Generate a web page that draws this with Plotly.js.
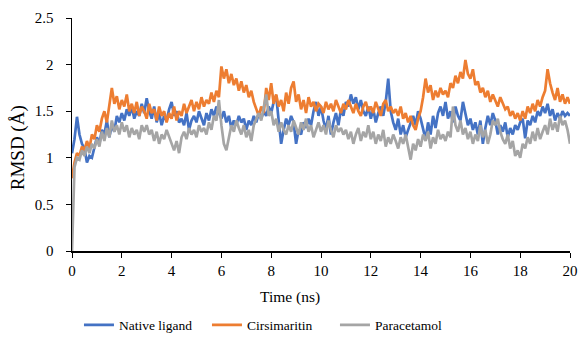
<!DOCTYPE html>
<html>
<head>
<meta charset="utf-8">
<script src="https://cdn.plot.ly/plotly-3.0.1.min.js"></script>
<style>html,body{margin:0;padding:0;background:#fff;}#chart{width:579px;height:349px;}</style>
</head>
<body>
<div id="chart"></div>
<script>
// time axis: 0 to 20 ns, step 0.1 ns
const timeStart = 0, timeStep = 0.1;

const seriesNames = ["Native ligand", "Cirsimaritin", "Paracetamol"];
const seriesColors = ["#4472C4", "#ED7D31", "#A5A5A5"];

const nativeLigand = [
1.05,1.20,1.44,1.25,1.15,1.10,0.95,1.02,1.00,1.12,
1.22,1.15,1.30,1.25,1.40,1.22,1.35,1.28,1.45,1.38,
1.48,1.40,1.52,1.45,1.55,1.42,1.50,1.45,1.58,1.48,
1.64,1.50,1.42,1.55,1.38,1.48,1.35,1.45,1.40,1.52,
1.60,1.45,1.50,1.38,1.42,1.35,1.48,1.30,1.40,1.45,
1.38,1.50,1.42,1.35,1.48,1.40,1.52,1.45,1.55,1.48,
1.42,1.50,1.38,1.45,1.32,1.40,1.35,1.45,1.38,1.42,
1.30,1.40,1.35,1.45,1.38,1.48,1.42,1.50,1.45,1.55,
1.48,1.60,1.67,1.40,1.15,1.30,1.42,1.35,1.45,1.38,
1.15,1.30,1.25,1.38,1.32,1.42,1.35,1.50,1.60,1.45,
1.55,1.40,1.30,1.45,1.25,1.38,1.48,1.35,1.52,1.45,
1.60,1.55,1.68,1.58,1.65,1.52,1.62,1.50,1.45,1.55,
1.42,1.52,1.38,1.48,1.55,1.45,1.60,1.85,1.50,1.38,
1.30,1.42,1.25,1.35,1.22,1.30,1.38,1.45,1.35,1.50,
1.42,1.30,1.20,1.38,1.25,1.45,1.32,1.48,1.55,1.45,
1.60,1.42,1.50,1.38,1.55,1.45,1.40,1.60,1.48,1.35,
1.42,1.30,1.38,1.25,1.40,1.15,1.32,1.45,1.35,1.48,
1.40,1.25,1.35,1.28,1.38,1.22,1.32,1.25,1.35,1.30,
1.38,1.42,1.21,1.40,1.35,1.45,1.38,1.50,1.45,1.55,
1.48,1.58,1.45,1.52,1.40,1.48,1.42,1.50,1.45,1.48,
1.45];

const cirsimaritin = [
0.78,0.95,1.05,1.02,1.12,1.08,1.18,1.10,1.25,1.20,
1.35,1.28,1.42,1.50,1.38,1.55,1.75,1.58,1.66,1.52,
1.62,1.55,1.68,1.50,1.58,1.48,1.60,1.45,1.55,1.50,
1.42,1.58,1.48,1.52,1.40,1.55,1.45,1.50,1.38,1.48,
1.42,1.55,1.40,1.50,1.45,1.58,1.48,1.55,1.62,1.50,
1.60,1.52,1.65,1.55,1.62,1.58,1.70,1.60,1.72,1.65,
1.98,1.85,1.95,1.80,1.90,1.78,1.85,1.72,1.82,1.70,
1.78,1.65,1.72,1.60,1.52,1.45,1.55,1.48,1.75,1.62,
1.80,1.58,1.68,1.55,1.62,1.50,1.70,1.58,1.75,1.82,
1.60,1.68,1.52,1.62,1.48,1.65,1.55,1.60,1.50,1.58,
1.55,1.48,1.60,1.52,1.58,1.50,1.62,1.55,1.48,1.58,
1.52,1.62,1.55,1.48,1.58,1.50,1.45,1.55,1.60,1.50,
1.55,1.48,1.60,1.52,1.45,1.58,1.62,1.50,1.55,1.48,
1.52,1.45,1.55,1.42,1.48,1.38,1.45,1.35,1.30,1.42,
1.50,1.65,1.85,1.70,1.78,1.62,1.72,1.65,1.75,1.68,
1.72,1.65,1.80,1.75,1.88,1.80,1.92,1.85,2.05,1.90,
1.85,1.95,1.78,1.82,1.70,1.75,1.65,1.72,1.60,1.68,
1.62,1.55,1.65,1.58,1.52,1.55,1.45,1.50,1.42,1.48,
1.40,1.50,1.42,1.55,1.48,1.58,1.50,1.62,1.55,1.65,
1.72,1.95,1.80,1.70,1.62,1.75,1.60,1.68,1.58,1.65,
1.58];

const paracetamol = [
0.00,0.90,1.00,0.98,1.08,1.02,1.12,1.05,1.15,1.10,
1.20,1.12,1.28,1.18,1.32,1.22,1.40,1.28,1.35,1.25,
1.38,1.28,1.35,1.22,1.32,1.25,1.30,1.20,1.35,1.28,
1.35,1.25,1.30,1.18,1.28,1.15,1.25,1.20,1.30,1.22,
1.15,1.08,1.18,1.05,1.22,1.28,1.20,1.32,1.25,1.30,
1.22,1.35,1.28,1.32,1.25,1.38,1.30,1.45,1.40,1.62,
1.35,1.15,1.08,1.20,1.35,1.28,1.40,1.32,1.25,1.35,
1.22,1.30,1.18,1.35,1.42,1.48,1.40,1.55,1.68,1.45,
1.50,1.35,1.42,1.28,1.38,1.30,1.25,1.35,1.28,1.40,
1.32,1.25,1.38,1.30,1.42,1.28,1.35,1.22,1.30,1.38,
1.28,1.35,1.25,1.40,1.30,1.22,1.35,1.28,1.32,1.25,
1.30,1.20,1.28,1.15,1.25,1.32,1.18,1.28,1.22,1.35,
1.20,1.28,1.15,1.25,1.18,1.30,1.12,1.22,1.15,1.25,
1.18,1.10,1.22,1.15,1.25,1.12,0.98,1.15,1.08,1.20,
1.12,1.25,1.18,1.28,1.10,1.22,1.15,1.30,1.20,1.25,
1.18,1.28,1.22,1.55,1.35,1.28,1.40,1.25,1.32,1.20,
1.28,1.15,1.25,1.18,1.35,1.22,1.30,1.15,1.25,1.40,
1.35,1.42,1.28,1.20,1.15,1.25,1.10,1.18,1.02,1.08,
1.00,1.15,1.10,1.22,1.15,1.28,1.18,1.32,1.20,1.28,
1.35,1.25,1.42,1.30,1.38,1.28,1.45,1.35,1.40,1.30,
1.15];

const xTickVals = [0,2,4,6,8,10,12,14,16,18,20];
const yTickVals = [0,0.5,1,1.5,2,2.5];
const yTickText = ["0","0.5","1","1.5","2","2.5"];
const xTitle = "Time (ns)";
const yTitle = "RMSD (Å)";

function timesFor(arr){ return arr.map((_, i) => +(timeStart + i*timeStep).toFixed(2)); }

const allSeries = [nativeLigand, cirsimaritin, paracetamol];
const traces = allSeries.map((ys, k) => ({
  x: timesFor(ys), y: ys, type: 'scatter', mode: 'lines',
  name: seriesNames[k], line: {color: seriesColors[k], width: 2.7}
}));

const fam = '"Liberation Serif", "Times New Roman", serif';
const tickFont = {family: fam, size: 15, color: '#000'};

const layout = {
  width: 579, height: 349,
  margin: {l: 72, r: 9, t: 18, b: 98},
  paper_bgcolor: '#fff', plot_bgcolor: '#fff',
  font: tickFont,
  showlegend: true,
  legend: {orientation: 'h', x: 0.014, xanchor: 'left', y: -0.318, yanchor: 'middle',
           font: {family: fam, size: 13.5, color: '#000'}, itemwidth: 30, entrywidth: 83},
  xaxis: {range: [0, 20], tickvals: xTickVals, showgrid: false, zeroline: false,
          showline: true, linecolor: '#000', linewidth: 1.5, ticks: 'outside', ticklen: 5, tickcolor: '#000',
          tickfont: tickFont},
  yaxis: {range: [0, 2.5], tickvals: yTickVals, ticktext: yTickText, showgrid: false, zeroline: false,
          showline: true, linecolor: '#000', linewidth: 1.5, ticks: 'outside', ticklen: 5, tickcolor: '#000',
          ticklabelstandoff: 9, tickfont: tickFont},
  annotations: [
    {text: xTitle, xref: 'paper', yref: 'paper', x: 0.438, y: -0.197, xanchor: 'center', yanchor: 'middle',
     showarrow: false, font: {family: fam, size: 15.5, color: '#000'}},
    {text: yTitle, xref: 'paper', yref: 'paper', x: -0.108, y: 0.442, xanchor: 'center', yanchor: 'middle',
     textangle: -90, showarrow: false, font: {family: fam, size: 19, color: '#000'}}
  ]
};

Plotly.newPlot('chart', traces, layout, {displayModeBar: false, staticPlot: true});
</script>
</body>
</html>
